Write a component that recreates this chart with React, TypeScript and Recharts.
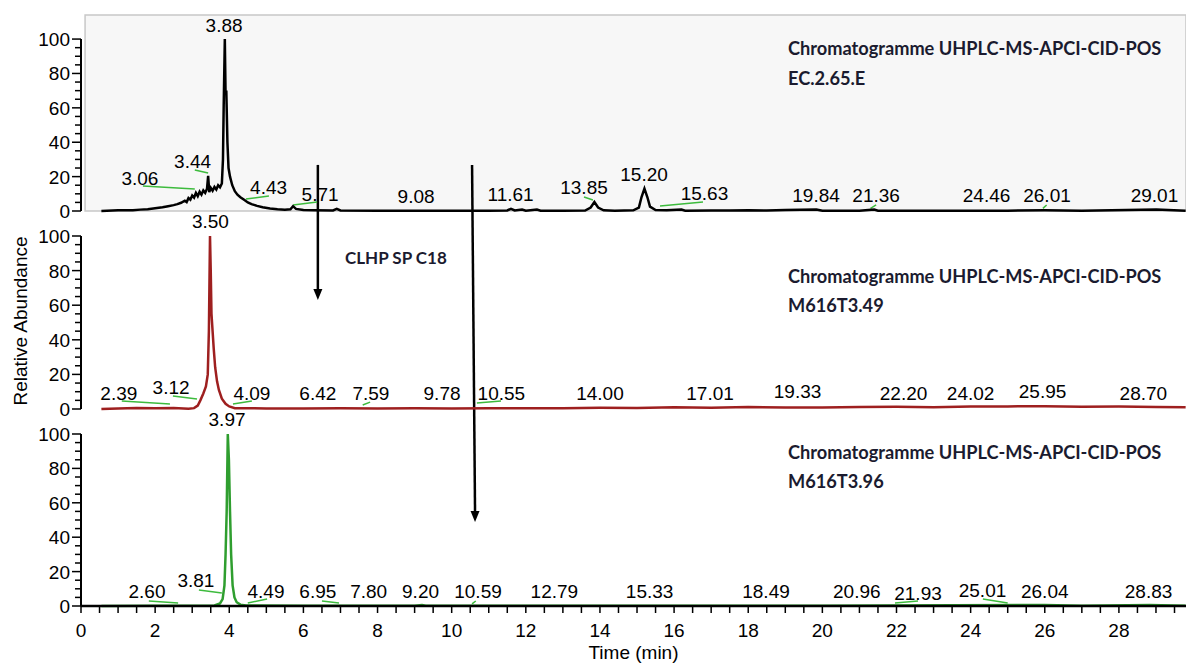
import { LineChart, Line, XAxis, YAxis, ReferenceLine, ReferenceDot, ReferenceArea } from 'recharts'

type Pt = [number, number]
type PeakLabel = { text: string; t: number; v: number }
type Seg = [number, number, number, number]

const X_MAX = 29.81
const xTicks = Array.from({ length: 60 }, (_, i) => i * 0.5)
const yTicks = Array.from({ length: 21 }, (_, i) => i * 5)

// EC.2.65.E (black trace)
const topTrace: Pt[] = [
  [0.55, 0], [1.0, 0.4], [1.4, 0.5], [1.6, 0.8], [1.8, 1.0], [2.0, 1.6], [2.2, 2.2], [2.35, 2.8],
  [2.5, 3.4], [2.6, 4.0], [2.7, 4.8], [2.8, 6.0], [2.85, 5.2], [2.9, 7.5], [2.95, 6.6], [3.0, 9.0],
  [3.05, 7.8], [3.1, 10.5], [3.15, 8.6], [3.2, 11.2], [3.25, 9.5], [3.3, 12.0], [3.35, 10.6],
  [3.4, 13.0], [3.43, 20.5], [3.46, 11.0], [3.5, 13.5], [3.55, 11.8], [3.6, 14.0], [3.65, 12.5],
  [3.7, 15.0], [3.75, 13.8], [3.8, 16.0], [3.83, 30], [3.85, 62], [3.88, 100], [3.9, 68], [3.92, 70],
  [3.95, 40], [3.98, 25], [4.02, 20], [4.08, 15], [4.15, 11.5], [4.22, 9.5], [4.3, 8], [4.4, 6.5],
  [4.5, 5], [4.6, 4], [4.75, 3], [4.9, 2.2], [5.1, 1.5], [5.3, 1.0], [5.5, 0.8], [5.65, 1.0],
  [5.72, 2.8], [5.8, 1.2], [6.0, 0.6], [6.3, 0.4], [6.8, 0.3], [6.9, 1.2], [7.0, 0.3], [8, 0.2],
  [9, 0.2], [10, 0.2], [11, 0.2], [11.5, 0.3], [11.6, 1.3], [11.7, 0.3], [11.9, 0.9], [12.0, 0.2],
  [12.3, 0.8], [12.4, 0.2], [13, 0.2], [13.6, 0.3], [13.75, 2], [13.85, 5.2], [13.95, 2], [14.1, 0.4],
  [14.4, 0.2], [14.9, 0.4], [15.05, 2], [15.12, 8], [15.2, 13], [15.28, 8], [15.35, 2.5], [15.5, 0.6],
  [15.8, 0.4], [16.2, 0.8], [16.3, 0.2], [17, 0.3], [17.5, 0.3], [18, 0.5], [18.5, 0.3], [19, 0.6],
  [19.84, 0.9], [20, 0.2], [21, 0.2], [21.4, 0.8], [21.5, 0.2], [22, 0.2], [25, 0.2], [26, 0.4],
  [27, 0.2], [29.01, 0.8], [29.8, 0.2],
]

// M616T3.49 (red trace)
const midTrace: Pt[] = [
  [0.55, 0], [1, 0.3], [1.5, 0.6], [2, 0.5], [2.5, 0.6], [2.9, 0.2], [3.05, 0.5], [3.15, 2],
  [3.22, 5], [3.3, 9], [3.37, 13], [3.42, 20], [3.45, 45], [3.48, 100], [3.5, 80], [3.52, 55],
  [3.55, 45], [3.58, 35], [3.62, 24], [3.67, 16], [3.72, 11], [3.8, 6], [3.9, 3], [4.0, 1.5],
  [4.15, 0.5], [5, 0.3], [6, 0.3], [7, 0.4], [8, 0.3], [9, 0.4], [10, 0.3], [11, 0.5], [12, 0.4],
  [13, 0.5], [14, 0.7], [15, 0.6], [16, 1.0], [17, 0.7], [18, 1.1], [19, 0.9], [20, 0.8], [21, 1.2],
  [22, 1.3], [23, 1.0], [24, 1.4], [25, 1.5], [26, 1.6], [27, 1.3], [28, 1.4], [29, 1.2], [29.8, 1.0],
]

// M616T3.96 (green trace)
const botTrace: Pt[] = [
  [0.55, 0], [2, 0.2], [3, 0.2], [3.6, 0.3], [3.75, 1.5], [3.82, 4], [3.87, 12], [3.9, 30],
  [3.93, 55], [3.96, 100], [3.99, 85], [4.02, 55], [4.05, 30], [4.09, 12], [4.14, 5], [4.2, 2.2],
  [4.3, 0.8], [4.45, 0.3], [6, 0.2], [9, 0.2], [9.2, 0.6], [9.3, 0.2], [12, 0.2], [16, 0.2],
  [20, 0.2], [26, 0.6], [27, 0.2], [28.83, 0.6], [29.8, 0.2],
]

const topLabels: PeakLabel[] = [
  { text: '3.88', t: 3.86, v: 104.1 }, { text: '3.06', t: 1.59, v: 15.1 }, { text: '3.44', t: 3.01, v: 25.0 },
  { text: '4.43', t: 5.06, v: 9.9 }, { text: '5.71', t: 6.45, v: 5.8 }, { text: '9.08', t: 9.04, v: 4.6 },
  { text: '11.61', t: 11.59, v: 5.8 }, { text: '13.85', t: 13.57, v: 9.9 }, { text: '15.20', t: 15.19, v: 17.4 },
  { text: '15.63', t: 16.82, v: 6.4 }, { text: '19.84', t: 19.83, v: 5.2 }, { text: '21.36', t: 21.45, v: 5.2 },
  { text: '24.46', t: 24.43, v: 5.2 }, { text: '26.01', t: 26.06, v: 5.2 }, { text: '29.01', t: 28.96, v: 5.2 },
]

const midLabels: PeakLabel[] = [
  { text: '3.50', t: 3.49, v: 104.6 }, { text: '2.39', t: 1.02, v: 5.2 }, { text: '3.12', t: 2.43, v: 8.7 },
  { text: '4.09', t: 4.61, v: 5.2 }, { text: '6.42', t: 6.39, v: 5.2 }, { text: '7.59', t: 7.82, v: 5.2 },
  { text: '9.78', t: 9.74, v: 5.2 }, { text: '10.55', t: 11.34, v: 5.2 }, { text: '14.00', t: 14.0, v: 5.2 },
  { text: '17.01', t: 16.97, v: 5.2 }, { text: '19.33', t: 19.33, v: 6.4 }, { text: '22.20', t: 22.19, v: 5.2 },
  { text: '24.02', t: 24.0, v: 5.2 }, { text: '25.95', t: 25.94, v: 6.5 }, { text: '28.70', t: 28.66, v: 5.2 },
]

const botLabels: PeakLabel[] = [
  { text: '3.97', t: 3.94, v: 104.7 }, { text: '2.60', t: 1.78, v: 4.7 }, { text: '3.81', t: 3.1, v: 11.0 },
  { text: '4.49', t: 4.99, v: 4.7 }, { text: '6.95', t: 6.39, v: 4.7 }, { text: '7.80', t: 7.76, v: 4.7 },
  { text: '9.20', t: 9.16, v: 4.7 }, { text: '10.59', t: 10.71, v: 4.7 }, { text: '12.79', t: 12.77, v: 4.7 },
  { text: '15.33', t: 15.34, v: 4.7 }, { text: '18.49', t: 18.48, v: 4.7 }, { text: '20.96', t: 20.93, v: 4.7 },
  { text: '21.93', t: 22.58, v: 3.5 }, { text: '25.01', t: 24.32, v: 5.2 }, { text: '26.04', t: 26.0, v: 4.7 },
  { text: '28.83', t: 28.8, v: 4.7 },
]

// green baseline marks: t1, v1, t2, v2
const topSegs: Seg[] = [
  [1.67, 14.5, 3.07, 12.8], [3.07, 23.8, 3.43, 22.1], [4.45, 7.0, 5.07, 8.7], [5.72, 3.5, 6.37, 5.2],
  [13.57, 8.1, 13.81, 6.4], [15.62, 2.9, 16.78, 5.2], [21.3, 1.5, 21.45, 3.5], [25.95, 1.5, 26.05, 3.5],
]
const midSegs: Seg[] = [
  [1.1, 4.6, 2.4, 2.9], [2.48, 7.5, 3.13, 5.8], [4.1, 2.9, 4.61, 4.6], [7.6, 2.3, 7.8, 4.0], [10.68, 3.5, 11.33, 4.6],
]
const botSegs: Seg[] = [
  [1.83, 2.9, 2.62, 1.7], [3.18, 9.3, 3.8, 7.6], [4.5, 1.7, 5.02, 4.1], [6.5, 2.9, 6.96, 1.7],
  [10.55, 1.2, 10.65, 2.9], [21.96, 1.7, 22.58, 2.9], [24.33, 4.1, 25.0, 1.7],
]

// arrows drawn in the top panel's scale: t, vFrom, tTip, vTip
const arrows: [number, number, number, number][] = [
  [6.39, 26.8, 6.39, -51.8],
  [10.55, 26.8, 10.63, -180.9],
]

const FONT = "'Liberation Sans', Arial, sans-serif"
const TITLE_FONT = "Lato, 'Open Sans', sans-serif"
const GREEN = '#3dbb3d'
const NUM_SIZE = 19

function YTick({ x, y, payload }: any) {
  const v = payload.value
  const major = v % 20 === 0
  return (
    <g>
      <line x1={x - (major ? 9 : 6)} x2={x} y1={y} y2={y} stroke="#000" strokeWidth={1.5} />
      {major && (
        <text x={x - 11} y={y + 7} textAnchor="end" fontSize={NUM_SIZE} fontFamily={FONT} fill="#000">
          {v}
        </text>
      )}
    </g>
  )
}

function XTick({ x, y, payload }: any) {
  const v = payload.value
  return (
    <g>
      <line x1={x} x2={x} y1={y} y2={y + 7} stroke="#000" strokeWidth={1.5} />
      {v % 2 === 0 && (
        <text x={x} y={y + 31} textAnchor="middle" fontSize={NUM_SIZE} fontFamily={FONT} fill="#000">
          {v}
        </text>
      )}
    </g>
  )
}

const labelShape = (text: string) => (p: any) => (
  <text x={p.cx} y={p.cy} textAnchor="middle" fontSize={NUM_SIZE} fontFamily={FONT} fill="#000">
    {text}
  </text>
)

const arrowHead = (p: any) => (
  <path d={`M${p.cx - 4.5},${p.cy - 11} L${p.cx + 4.5},${p.cy - 11} L${p.cx},${p.cy} Z`} fill="#000" />
)

type PanelProps = {
  top: number
  height: number
  marginTop: number
  yMax: number
  trace: Pt[]
  color: string
  labels: PeakLabel[]
  segs: Seg[]
  bottomAxis?: boolean
  children?: any
}

function Panel({ top, height, marginTop, yMax, trace, color, labels, segs, bottomAxis, children }: PanelProps) {
  const data = trace.map(([t, v]) => ({ t, v }))
  return (
    <div style={{ position: 'absolute', left: 0, top }}>
      <LineChart width={1186} height={height} data={data} margin={{ top: marginTop, right: 0, bottom: bottomAxis ? 0 : 2, left: 0 }}>
        {children}
        <XAxis
          type="number"
          dataKey="t"
          domain={[0, X_MAX]}
          ticks={xTicks}
          interval={0}
          height={bottomAxis ? 58 : 0}
          tickSize={0}
          tickMargin={0}
          tickLine={false}
          tick={bottomAxis ? <XTick /> : false}
          axisLine={{ stroke: '#000', strokeWidth: 2.5 }}
          label={bottomAxis ? { value: 'Time (min)', position: 'insideBottom', offset: 5, fontSize: NUM_SIZE, fontFamily: FONT, fill: '#000' } : undefined}
        />
        <YAxis
          type="number"
          domain={[0, yMax]}
          ticks={yTicks}
          interval={0}
          width={81}
          tickSize={0}
          tickMargin={0}
          tickLine={false}
          tick={<YTick />}
          axisLine={false}
        />
        <ReferenceLine segment={[{ x: 0, y: 0 }, { x: 0, y: 100 }]} stroke="#000" strokeWidth={2} ifOverflow="visible" />
        {segs.map(([t1, v1, t2, v2], i) => (
          <ReferenceLine key={'s' + i} segment={[{ x: t1, y: v1 }, { x: t2, y: v2 }]} stroke={GREEN} strokeWidth={1.5} ifOverflow="visible" />
        ))}
        <Line type="linear" dataKey="v" stroke={color} strokeWidth={2.5} dot={false} isAnimationActive={false} />
        {labels.map((l, i) => (
          <ReferenceDot key={'l' + i} x={l.t} y={l.v} r={0} ifOverflow="visible" shape={labelShape(l.text)} />
        ))}
      </LineChart>
    </div>
  )
}

export default function App() {
  return (
    <div style={{ position: 'absolute', left: 0, top: 0, width: 1186, height: 664, background: '#fff', overflow: 'hidden' }}>
      <style>{'.recharts-surface{overflow:visible !important}'}</style>
      <Panel top={0} height={213} marginTop={15} yMax={114} trace={topTrace} color="#000" labels={topLabels} segs={topSegs}>
        <ReferenceArea x1={0.11} x2={X_MAX} y1={0} y2={114} fill="#f7f7f7" fillOpacity={1} stroke="#c8c8c8" strokeWidth={1.5} ifOverflow="visible" />
        {arrows.map(([t1, v1, t2, v2], i) => (
          <ReferenceLine key={'a' + i} segment={[{ x: t1, y: v1 }, { x: t2, y: v2 + 6 }]} stroke="#000" strokeWidth={2.5} ifOverflow="visible" />
        ))}
        {arrows.map(([, , t2, v2], i) => (
          <ReferenceDot key={'h' + i} x={t2} y={v2} r={0} ifOverflow="visible" shape={arrowHead} />
        ))}
      </Panel>
      <Panel top={216} height={195} marginTop={20} yMax={100} trace={midTrace} color="#9e1f1f" labels={midLabels} segs={midSegs} />
      <Panel top={412} height={252} marginTop={22} yMax={100} trace={botTrace} color="#2f9e2f" labels={botLabels} segs={botSegs} bottomAxis />
      <svg width={1186} height={664} style={{ position: 'absolute', left: 0, top: 0, pointerEvents: 'none' }}>
        <text transform="translate(27,321) rotate(-90)" textAnchor="middle" fontSize={NUM_SIZE} fontFamily={FONT} fill="#000">
          Relative Abundance
        </text>
        <g fontFamily={TITLE_FONT} fontWeight="bold" fontSize={18.2} fill="#1b1b2f">
          <text x={788} y={55}>Chromatogramme UHPLC-MS-APCI-CID-POS</text>
          <text x={788} y={85}>EC.2.65.E</text>
          <text x={345} y={264} fontSize={17}>CLHP SP C18</text>
          <text x={788} y={283}>Chromatogramme UHPLC-MS-APCI-CID-POS</text>
          <text x={788} y={312}>M616T3.49</text>
          <text x={788} y={459}>Chromatogramme UHPLC-MS-APCI-CID-POS</text>
          <text x={788} y={488}>M616T3.96</text>
        </g>
      </svg>
    </div>
  )
}
